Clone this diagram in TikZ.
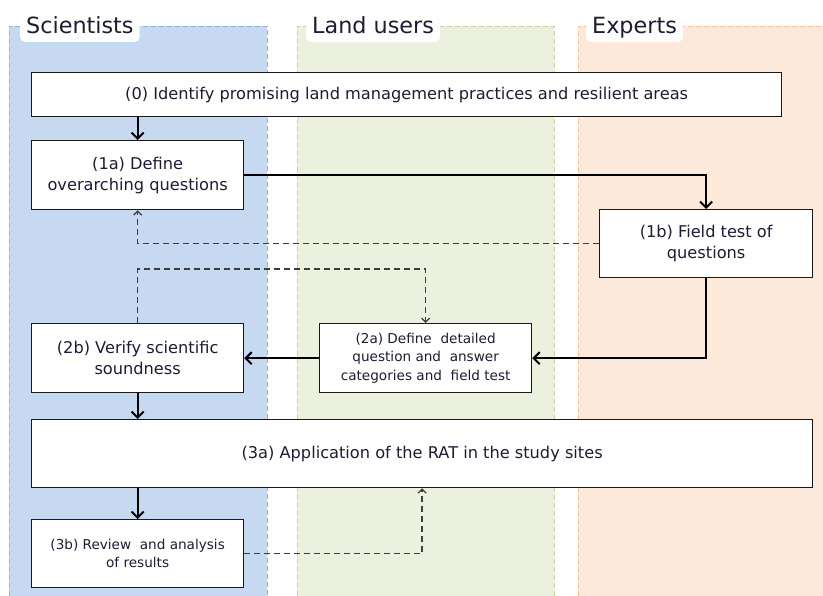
\documentclass[tikz,border=0pt]{standalone}
\usepackage{fontspec}
\setmainfont{DejaVu Sans}
\usetikzlibrary{arrows.meta}

\definecolor{sciFill}{RGB}{198,217,240}
\definecolor{sciLine}{RGB}{141,179,226}
\definecolor{landFill}{RGB}{235,241,222}
\definecolor{landLine}{RGB}{195,214,155}
\definecolor{expFill}{RGB}{253,233,217}
\definecolor{expLine}{RGB}{250,192,144}
\definecolor{inkText}{RGB}{30,28,50}
\definecolor{dashInk}{RGB}{60,60,60}

\begin{document}
\begin{tikzpicture}[x=1pt,y=-1pt,
  laneedge/.style={dash pattern=on 5pt off 3pt, line width=0.9pt},
  lanetitle/.style={fill=white, rounded corners=5pt, inner xsep=6pt, inner ysep=4pt,
    text=inkText, font=\fontsize{22.3}{26}\selectfont, anchor=base west,
    text height=16pt, text depth=4pt},
  stepbox/.style={draw=black!90, line width=1.3pt, fill=white, inner sep=0pt,
    align=center, anchor=north west, text=inkText,
    font=\fontsize{16.2}{21}\selectfont},
  smallstep/.style={stepbox, font=\fontsize{13.6}{18.5}\selectfont},
  flow/.style={draw=black, line width=2.3pt,
    -{Straight Barb[length=6pt,width=12pt,line width=2pt]}},
  feedback/.style={draw=dashInk, line width=1.5pt, dash pattern=on 6pt off 4pt,
    -{Straight Barb[length=4pt,width=8pt,line width=1.2pt]}}
]
\useasboundingbox (0,0) rectangle (823,596);

% swim lanes (open at the bottom and, for the last one, at the right)
\fill[sciFill]  (9,26)   rectangle (267,596);
\fill[landFill] (297,26) rectangle (554,596);
\fill[expFill]  (578,26) rectangle (823,596);
\draw[laneedge, draw=sciLine]  (9,596)   -- (9,26)   -- (267,26) -- (267,596);
\draw[laneedge, draw=landLine] (297,596) -- (297,26) -- (554,26) -- (554,596);
\draw[laneedge, draw=expLine]  (578,596) -- (578,26) -- (823,26);

\node[lanetitle] (tsci)  at (20,34)  {Scientists};
\node[lanetitle] (tland) at (306,34) {Land users};
\node[lanetitle] (texp)  at (586,34) {Experts};

% process steps
\node[stepbox, minimum width=750pt, minimum height=44pt] (s0) at (31,72)
  {(0) Identify promising land management practices and resilient areas};
\node[stepbox, minimum width=212pt, minimum height=69pt] (s1a) at (31,140)
  {(1a) Define\\overarching questions};
\node[stepbox, minimum width=213pt, minimum height=68pt] (s1b) at (599,209)
  {(1b) Field test of\\questions};
\node[stepbox, minimum width=212pt, minimum height=69pt] (s2b) at (31,323)
  {(2b) Verify scientific\\soundness};
\node[smallstep, minimum width=212pt, minimum height=69pt] (s2a) at (319,323)
  {(2a) Define\ \ detailed\\question and\ \ answer\\categories and\ \ field test};
\node[stepbox, minimum width=781pt, minimum height=68pt] (s3a) at (31,419)
  {(3a) Application of the RAT in the study sites};
\node[smallstep, minimum width=212pt, minimum height=68pt] (s3b) at (31,519)
  {(3b) Review\ \ and analysis\\of results};

\coordinate (loopTop) at (137,269);

% main flow
\draw[flow] (s1a.north |- s0.south) -- (s1a.north);
\draw[flow] (s1a.east) -- (s1b.north |- s1a.east) -- (s1b.north);
\draw[flow] (s1b.south) |- (s2a.east);
\draw[flow] (s2a.west) -- (s2b.east);
\draw[flow] (s2b.south) -- (s2b.south |- s3a.north);
\draw[flow] (s3b.north |- s3a.south) -- (s3b.north);

% feedback loops
\draw[feedback] (s1b.west) -- (s1a.south |- s1b.west) -- (s1a.south);
\draw[feedback] (s2b.north) -- (s2b.north |- loopTop) -| (s2a.north);
\draw[feedback] (s3b.east) -| (s3a.south);
\end{tikzpicture}
\end{document}
